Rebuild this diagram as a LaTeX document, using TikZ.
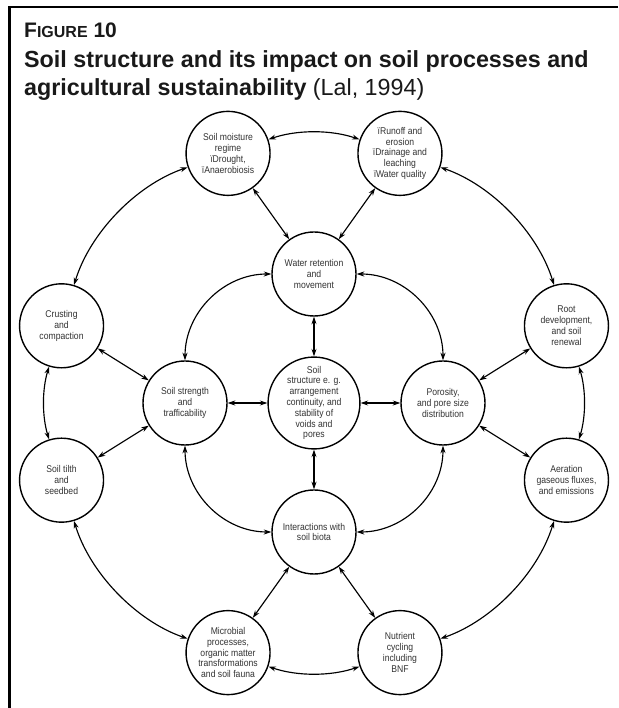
\documentclass[tikz,border=0pt]{standalone}
\usepackage{fontspec}
\setmainfont{Liberation Sans}
\newfontfamily\cfont[FakeStretch=0.88]{Liberation Sans}
\usetikzlibrary{arrows.meta}
\begin{document}
\begin{tikzpicture}[x=1pt,y=1pt,
  bub/.style={circle,draw,line width=1.4pt,fill=white,minimum size=84pt,inner sep=0pt,align=center,
    font=\cfont\fontsize{9.8}{10.8}\selectfont,text=black!80},
  lnk/.style={{Stealth[length=7.5pt,width=5pt]}-{Stealth[length=7.5pt,width=5pt]},line width=1.15pt},
  ttl/.style={anchor=base west,inner sep=0pt,text=black!90}
]
\useasboundingbox (0,0) rectangle (618,708);
\draw[line width=2.7pt] (618,701) -- (9.5,701) -- (9.5,0);
% title
\node[ttl] (t1) at (24,670) {\fontsize{21}{24}\selectfont\bfseries F{\fontsize{16}{18}\selectfont IGURE} 10};
\node[ttl] (t2) at (24,640) {\fontsize{23.3}{28}\selectfont\bfseries Soil structure and its impact on soil processes and};
\node[ttl] (t3) at (24,612) {\fontsize{23.3}{28}\selectfont\textbf{agricultural sustainability} (Lal, 1994)};
% ring centre
\coordinate (C) at (314,305);
% outer ring
\node[bub] (SM) at ([shift={(109:264)}]C) {Soil moisture\\regime\\ïDrought,\\ïAnaerobiosis};
\node[bub] (RO) at ([shift={(71:264)}]C) {ïRunoff and\\erosion\\ïDrainage and\\leaching\\ïWater quality};
\node[bub] (RD) at ([shift={(17:264)}]C) {Root\\development,\\and soil\\renewal};
\node[bub] (AE) at ([shift={(-17:264)}]C) {Aeration\\gaseous fluxes,\\and emissions};
\node[bub] (NU) at ([shift={(-71:264)}]C) {Nutrient\\cycling\\including\\BNF};
\node[bub] (MI) at ([shift={(-109:264)}]C) {Microbial\\processes,\\organic matter\\transformations\\and soil fauna};
\node[bub] (TI) at ([shift={(197:264)}]C) {Soil tilth\\and\\seedbed};
\node[bub] (CR) at ([shift={(163:264)}]C) {Crusting\\and\\compaction};
% inner ring
\node[bub] (WR) at ([shift={(90:129)}]C) {Water retention\\and\\movement};
\node[bub] (PO) at ([shift={(0:129)}]C) {Porosity,\\and pore size\\distribution};
\node[bub] (IN) at ([shift={(-90:129)}]C) {Interactions with\\soil biota};
\node[bub] (SS) at ([shift={(180:129)}]C) {Soil strength\\and\\trafficability};
\node[bub,minimum size=88pt] (ST) at (C) {Soil\\structure e. g.\\arrangement\\continuity, and\\stability of\\voids and\\pores};
% outer arcs
\draw[lnk] (SM) to[bend left=19,looseness=0.85] (RO);
\draw[lnk] (RO) to[bend left=27,looseness=0.85] (RD);
\draw[lnk] (RD) to[bend left=17,looseness=0.85] (AE);
\draw[lnk] (AE) to[bend left=27,looseness=0.85] (NU);
\draw[lnk] (NU) to[bend left=19,looseness=0.85] (MI);
\draw[lnk] (MI) to[bend left=27,looseness=0.85] (TI);
\draw[lnk] (TI) to[bend left=17,looseness=0.85] (CR);
\draw[lnk] (CR) to[bend left=27,looseness=0.85] (SM);
% inner arcs
\draw[lnk] (WR) to[bend left=45] (PO);
\draw[lnk] (PO) to[bend left=45] (IN);
\draw[lnk] (IN) to[bend left=45] (SS);
\draw[lnk] (SS) to[bend left=45] (WR);
% radial
\draw[lnk] (ST) -- (WR);
\draw[lnk] (ST) -- (PO);
\draw[lnk] (ST) -- (IN);
\draw[lnk] (ST) -- (SS);
\draw[lnk] (WR) -- (SM);
\draw[lnk] (WR) -- (RO);
\draw[lnk] (PO) -- (RD);
\draw[lnk] (PO) -- (AE);
\draw[lnk] (IN) -- (NU);
\draw[lnk] (IN) -- (MI);
\draw[lnk] (SS) -- (TI);
\draw[lnk] (SS) -- (CR);
\end{tikzpicture}
\end{document}
